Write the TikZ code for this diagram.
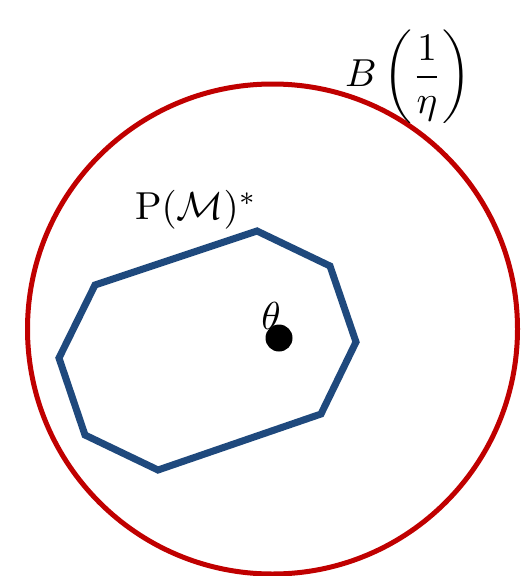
\documentclass[tikz,border=0pt]{standalone}
\usepackage{amsmath}
\usepackage{graphicx}
\definecolor{ballred}{RGB}{192,0,0}
\definecolor{polyblue}{RGB}{31,73,125}
\newcommand{\bigtxt}[1]{\scalebox{3.9}{#1}}
\begin{document}
\begin{tikzpicture}[x=1pt,y=-1pt,
  ballstyle/.style={circle,draw=ballred,line width=5pt,minimum size=490pt,inner sep=0pt},
  polystyle/.style={draw=polyblue,line width=7pt},
  lbl/.style={inner sep=0pt}]
\useasboundingbox (0,0) rectangle (522,576);
\node[ballstyle] (ball) at (272.5,329) {};
\coordinate (p1) at (95,285);
\coordinate (p2) at (257,231);
\coordinate (p3) at (330,266);
\coordinate (p4) at (356,342);
\coordinate (p5) at (321,414);
\coordinate (p6) at (158,470);
\coordinate (p7) at (85,435);
\coordinate (p8) at (59,358);
\draw[polystyle] (p1) -- (p2) -- (p3) -- (p4) -- (p5) -- (p6) -- (p7) -- (p8) -- cycle;
\node[circle,fill=black,minimum size=27pt,inner sep=0pt] (dot) at (279,338) {};
\node[lbl] (theta) at (271,316) {\bigtxt{$\theta$}};
\node[lbl] (plabel) at (196,210) {\bigtxt{$\mathrm{P}(\mathcal{M})^{*}$}};
\node[lbl] (blabel) at (408,77) {\bigtxt{$B\left(\dfrac{1}{\eta}\right)$}};
\end{tikzpicture}
\end{document}
